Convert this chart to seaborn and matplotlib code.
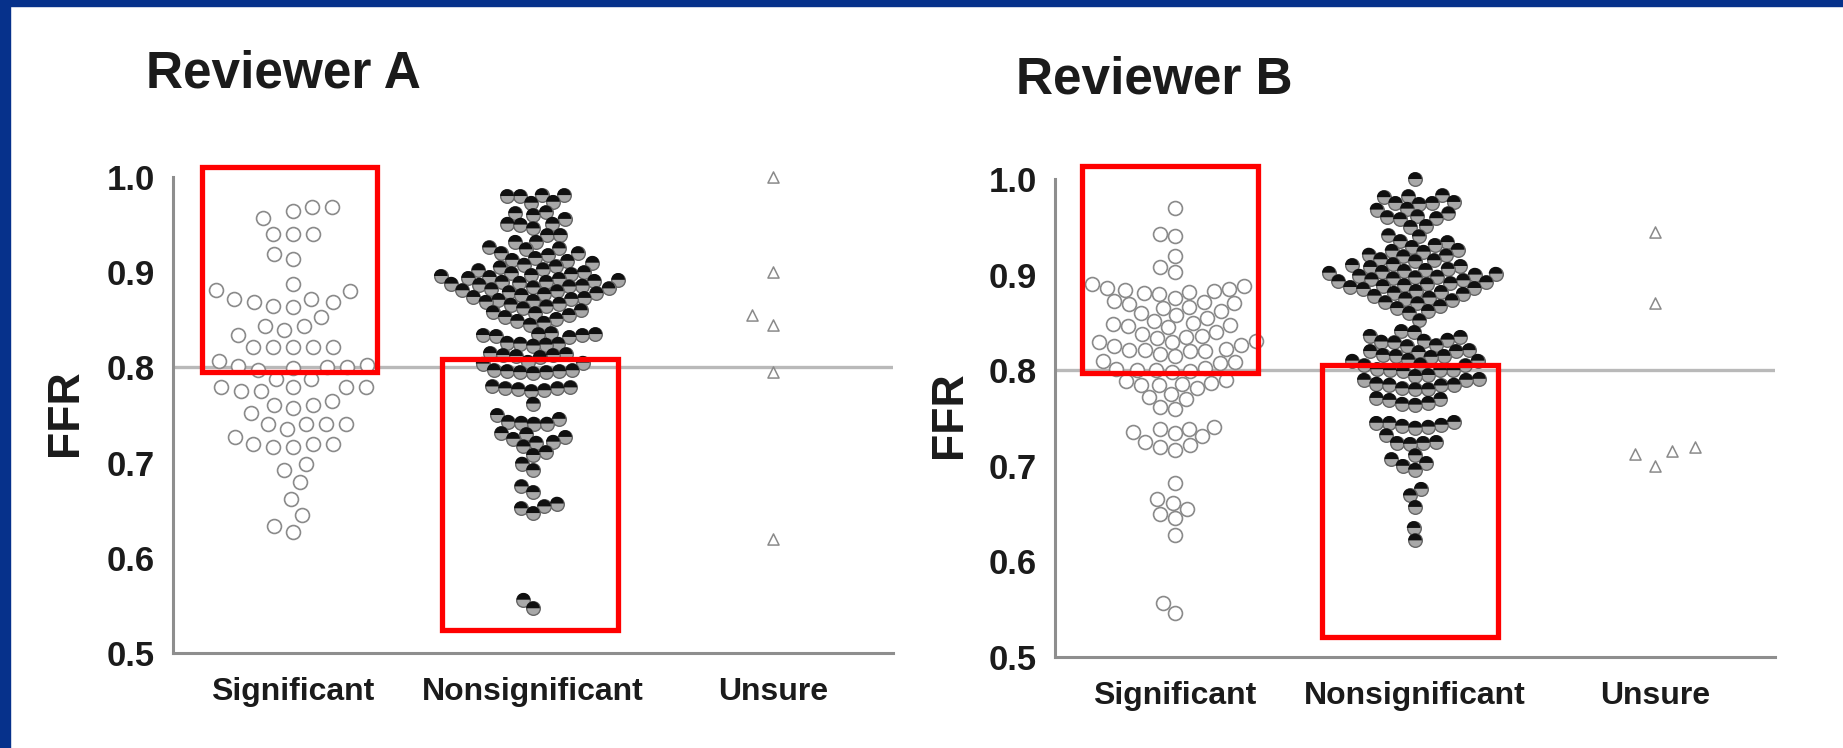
import numpy as np
import pandas as pd
import matplotlib
matplotlib.use("Agg")
import matplotlib.pyplot as plt
from matplotlib.markers import MarkerStyle
from matplotlib.patches import Rectangle
import seaborn as sns

# ---------------------------------------------------------------- data
categories = ["Significant", "Nonsignificant", "Unsure"]
y_ticks = [0.5, 0.6, 0.7, 0.8, 0.9, 1.0]
y_tick_labels = ["0.5", "0.6", "0.7", "0.8", "0.9", "1.0"]
ffr_cutoff = 0.8
panel_titles = ["Reviewer A", "Reviewer B"]

sig_a = [0.969, 0.969, 0.964, 0.957, 0.94, 0.94, 0.94, 0.919, 0.914,
         0.888, 0.881, 0.88, 0.872, 0.872, 0.869, 0.869, 0.865, 0.863,
         0.853, 0.844, 0.844, 0.839, 0.834, 0.821, 0.821, 0.821, 0.821,
         0.821, 0.807, 0.803, 0.801, 0.80, 0.80, 0.799, 0.797, 0.788,
         0.788, 0.779, 0.779, 0.779, 0.779, 0.775, 0.775, 0.765, 0.761,
         0.76, 0.757, 0.752, 0.741, 0.741, 0.741, 0.741, 0.735, 0.727,
         0.72, 0.72, 0.72, 0.716, 0.716, 0.699, 0.692, 0.68, 0.662,
         0.645, 0.633, 0.627]

nonsig_a = [0.981, 0.981, 0.98, 0.98, 0.974, 0.973, 0.963, 0.962, 0.96,
            0.956, 0.951, 0.951, 0.95, 0.946, 0.939, 0.939, 0.932, 0.932,
            0.926, 0.925, 0.924, 0.92, 0.92, 0.918, 0.915, 0.913, 0.912,
            0.91, 0.908, 0.906, 0.905, 0.903, 0.902, 0.90, 0.899, 0.898,
            0.897, 0.896, 0.895, 0.894, 0.893, 0.892, 0.891, 0.89, 0.89,
            0.889, 0.888, 0.887, 0.886, 0.885, 0.884, 0.883, 0.882, 0.881,
            0.88, 0.879, 0.878, 0.877, 0.876, 0.874, 0.873, 0.872, 0.871,
            0.87, 0.869, 0.867, 0.866, 0.864, 0.862, 0.86, 0.858, 0.857,
            0.855, 0.853, 0.851, 0.849, 0.847, 0.845,
            0.836, 0.835, 0.835, 0.834, 0.834, 0.833, 0.832, 0.826, 0.825,
            0.825, 0.824, 0.823, 0.815, 0.814, 0.813, 0.813, 0.812, 0.811,
            0.806, 0.805, 0.804,
            0.797, 0.797, 0.796, 0.796, 0.795, 0.795, 0.794, 0.78, 0.779,
            0.778, 0.778, 0.777, 0.776, 0.775, 0.762, 0.75, 0.746, 0.743,
            0.742, 0.741, 0.741, 0.731, 0.73, 0.727, 0.725, 0.722, 0.721,
            0.717, 0.711, 0.708, 0.699, 0.692, 0.675, 0.669, 0.657, 0.654,
            0.652, 0.647, 0.556, 0.547]

unsure_a = [1.0, 0.90, 0.855, 0.845, 0.795, 0.62]

sig_b = [0.97, 0.942, 0.94, 0.919, 0.908, 0.903, 0.89, 0.888, 0.886,
         0.885, 0.884, 0.883, 0.882, 0.881, 0.88, 0.876, 0.872, 0.871,
         0.87, 0.869, 0.866, 0.865, 0.862, 0.86, 0.858, 0.855, 0.851,
         0.849, 0.848, 0.847, 0.846, 0.845, 0.84, 0.838, 0.836, 0.835,
         0.834, 0.831, 0.83, 0.829, 0.826, 0.825, 0.822, 0.821, 0.821,
         0.82, 0.82, 0.817, 0.815, 0.81, 0.809, 0.808, 0.802, 0.801,
         0.80, 0.80, 0.799, 0.798, 0.79, 0.789, 0.787, 0.786, 0.785,
         0.785, 0.781, 0.775, 0.772, 0.77, 0.761, 0.759, 0.741, 0.739,
         0.739, 0.735, 0.734, 0.731, 0.725, 0.722, 0.72, 0.717, 0.682,
         0.665, 0.661, 0.655, 0.65, 0.645, 0.628, 0.556, 0.546]

nonsig_b = [1.0, 0.983, 0.982, 0.981, 0.976, 0.975, 0.975, 0.974, 0.969,
            0.968, 0.964, 0.961, 0.96, 0.959, 0.958, 0.951, 0.95, 0.941,
            0.94, 0.935, 0.934, 0.931, 0.929, 0.926, 0.925, 0.924, 0.921,
            0.92, 0.919, 0.916, 0.915, 0.914, 0.911, 0.91, 0.909, 0.908,
            0.906, 0.905, 0.904, 0.903, 0.902, 0.901, 0.90, 0.899, 0.898,
            0.897, 0.896, 0.895, 0.894, 0.893, 0.892, 0.891, 0.89, 0.889,
            0.888, 0.887, 0.886, 0.885, 0.883, 0.882, 0.881, 0.88, 0.878,
            0.876, 0.875, 0.873, 0.871, 0.87, 0.867, 0.865, 0.862, 0.86,
            0.852, 0.841, 0.84, 0.836, 0.835, 0.832, 0.831, 0.83, 0.829,
            0.826, 0.825, 0.821, 0.82, 0.82, 0.819, 0.816, 0.815, 0.815,
            0.814, 0.811, 0.81, 0.81, 0.806, 0.805, 0.805, 0.801, 0.80,
            0.80, 0.80, 0.799, 0.795, 0.794, 0.791, 0.79, 0.79, 0.786,
            0.785, 0.785, 0.784, 0.781, 0.78, 0.78, 0.771, 0.77, 0.769,
            0.766, 0.765, 0.764, 0.746, 0.745, 0.745, 0.743, 0.742, 0.741,
            0.74, 0.732, 0.725, 0.724, 0.724, 0.723, 0.711, 0.707, 0.703,
            0.70, 0.696, 0.676, 0.669, 0.657, 0.635, 0.622]

unsure_b = [0.945, 0.87, 0.72, 0.716, 0.712, 0.70]

# highlighted regions: (category index, left, right, FFR low, FFR high)
boxes_a = [(0, -0.381, 0.351, 0.795, 1.011), (1, -0.380, 0.353, 0.524, 0.809)]
boxes_b = [(0, -0.388, 0.345, 0.797, 1.014), (1, -0.389, 0.345, 0.521, 0.805)]

# swarm spacing (points) per panel: significant, nonsignificant, unsure
spacing_a = [12.5, 8.0, 15.0]
spacing_b = [9.4, 8.0, 15.0]

# ---------------------------------------------------------------- style
sns.set_style("white")
plt.rcParams["font.family"] = ["Liberation Sans", "DejaVu Sans"]
TEXT = "#1b1b1b"
AXIS = "#8e8e8e"
W, H = 1843, 748

fig = plt.figure(figsize=(W / 100, H / 100), dpi=100)
fig.patch.set_facecolor("white")

# collections whose marker size differs from the size used for the swarm
resized = []


def swarm(ax, values, group, fc, ec, spacing, size, marker="o", lw=1.2,
          zorder=3):
    frame = pd.DataFrame({"group": [group] * len(values), "FFR": values})
    n0 = len(ax.collections)
    sns.swarmplot(data=frame, x="group", y="FFR", order=categories, ax=ax,
                  size=spacing, linewidth=lw, marker=marker, color=AXIS,
                  clip_on=False, zorder=zorder, warn_thresh=1.0)
    for coll in ax.collections[n0:]:
        coll.set_facecolor(fc)
        coll.set_edgecolor(ec)
        coll.set_linewidth(lw)
        resized.append((coll, size))


def draw_panel(ax, sig, nonsig, unsure, boxes, spacing):
    ax.set_xlim(-0.5, 2.5)
    ax.set_ylim(0.5, 1.0)
    ax.axhline(ffr_cutoff, color="#b9b9b9", lw=2.4, zorder=1)
    swarm(ax, sig, "Significant", fc="white", ec="#8a8a8a",
          spacing=spacing[0], size=10.0)
    # filled markers: grey disc with a dark upper half
    swarm(ax, nonsig, "Nonsignificant", fc="#a8a8a8", ec="#666666",
          spacing=spacing[1], size=9.8, lw=1.0, zorder=3)
    swarm(ax, nonsig, "Nonsignificant", fc="#101010", ec="none",
          marker=MarkerStyle("o", fillstyle="top"), spacing=spacing[1],
          size=9.8, lw=1.0, zorder=3.1)
    swarm(ax, unsure, "Unsure", fc="white", ec="#8a8a8a", marker="^",
          spacing=spacing[2], size=8.0, lw=1.1)

    for idx, left, right, low, high in boxes:
        ax.add_patch(Rectangle((idx + left, low), right - left, high - low,
                               fill=False, ec="#ff0000", lw=3.8,
                               clip_on=False, zorder=5))

    ax.set_xlim(-0.5, 2.5)
    ax.set_ylim(0.5, 1.0)
    ax.set_yticks(y_ticks, y_tick_labels)
    ax.set_xticks(range(len(categories)), categories)
    ax.set_xlabel("")
    ax.set_ylabel("")
    ax.set_facecolor("none")
    for side in ("top", "right"):
        ax.spines[side].set_visible(False)
    for side in ("left", "bottom"):
        ax.spines[side].set_color(AXIS)
        ax.spines[side].set_linewidth(2.2)
    ax.tick_params(axis="y", length=5, width=2, color=AXIS, pad=8,
                   labelsize=25, labelcolor=TEXT)
    ax.tick_params(axis="x", length=8, width=2, color=AXIS, pad=9,
                   labelsize=23, labelcolor=TEXT)
    for lab in ax.get_xticklabels() + ax.get_yticklabels():
        lab.set_fontweight("bold")


ax_a = fig.add_axes([173 / W, 95 / H, 720 / W, 476 / H])
ax_b = fig.add_axes([1055 / W, 91 / H, 720 / W, 478 / H])
draw_panel(ax_a, sig_a, nonsig_a, unsure_a, boxes_a, spacing_a)
draw_panel(ax_b, sig_b, nonsig_b, unsure_b, boxes_b, spacing_b)

# panel titles and axis labels
fig.text(283 / W, 1 - 87 / H, panel_titles[0], ha="center", va="baseline",
         fontsize=37, fontweight="bold", color=TEXT)
fig.text(1154 / W, 1 - 94 / H, panel_titles[1], ha="center", va="baseline",
         fontsize=37, fontweight="bold", color=TEXT)
fig.text(66 / W, 1 - 413 / H, "FFR", rotation=90, ha="center", va="center",
         fontsize=32, fontweight="bold", color=TEXT)
fig.text(950 / W, 1 - 415 / H, "FFR", rotation=90, ha="center", va="center",
         fontsize=32, fontweight="bold", color=TEXT)

# slide frame
frame_blue = "#06318b"
fig.add_artist(Rectangle((0, 1 - 6 / H), 1, 6 / H, transform=fig.transFigure,
                         color=frame_blue, zorder=10))
fig.add_artist(Rectangle((0, 0), 10 / W, 1, transform=fig.transFigure,
                         color=frame_blue, zorder=10))

# lay out the swarms with the final axes geometry, then keep those
# positions and draw the markers at their display size
fig.canvas.draw()
for coll, size in resized:
    coll.__dict__.pop("draw", None)
    coll.set_sizes([size ** 2])

fig.savefig("out.png", dpi=100)
